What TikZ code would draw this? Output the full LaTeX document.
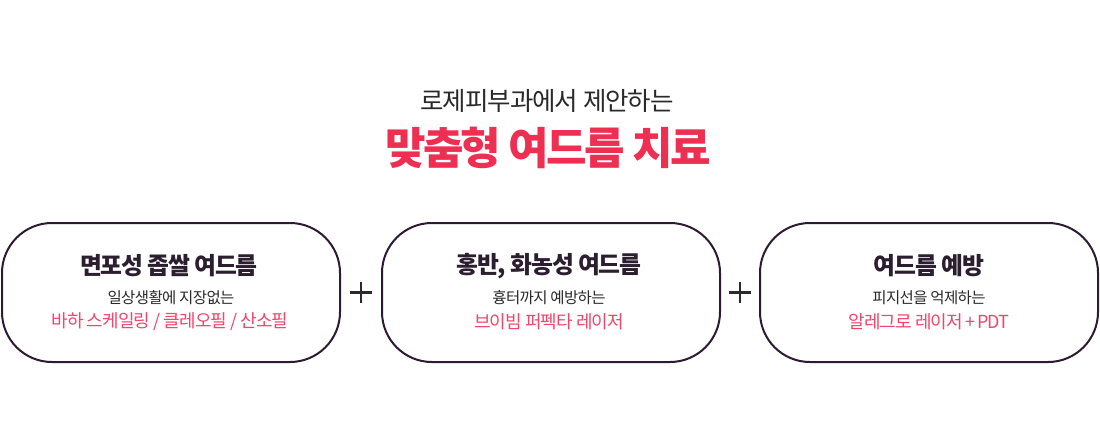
\documentclass[tikz,border=0pt]{standalone}
\usepackage{fontspec}
\usetikzlibrary{calc}
\setmainfont{Noto Sans CJK KR}
\definecolor{boxc}{HTML}{2D1B33}
\definecolor{headpink}{HTML}{EE2F52}
\definecolor{subpink}{HTML}{F2456A}
\definecolor{darktxt}{HTML}{2A2A2A}
\definecolor{titletxt}{HTML}{2B1E2E}
\tikzset{
  pill/.style={draw=boxc, line width=2pt, rounded corners=50pt, minimum width=338pt, minimum height=139pt, inner sep=0pt},
  boxtitle/.style={text=titletxt, font=\fontsize{23.8}{27}\selectfont\bfseries\addfontfeature{LetterSpace=-5}, inner sep=0pt},
  boxsub/.style={text=darktxt, font=\fontsize{15.5}{18}\selectfont\addfontfeature{LetterSpace=-4}, inner sep=0pt},
  boxpink/.style={text=subpink, font=\fontsize{18}{21}\selectfont\addfontfeature{LetterSpace=-5}, inner sep=0pt},
  plussign/.style={draw=darktxt, line width=2.4pt}
}
\begin{document}
\begin{tikzpicture}[x=1pt,y=-1pt]
\useasboundingbox (0,0) rectangle (1100,433);
\fill[white] (0,0) rectangle (1100,433);

\node[text=darktxt, font=\fontsize{25.5}{30}\selectfont\addfontfeature{LetterSpace=-4}, inner sep=0pt] (intro) at (547,101) {로제피부과에서 제안하는};
\node[text=headpink, font=\fontsize{44}{50}\selectfont\bfseries\addfontfeature{LetterSpace=-6}, inner sep=0pt] (head) at (548,148) {맞춤형 여드름 치료};

\node[pill] (b1) at (171,292.5) {};
\node[pill] (b2) at (551,292.5) {};
\node[pill] (b3) at (929,292.5) {};

\node[boxtitle] (t1) at (169,266) {면포성 좁쌀 여드름};
\node[boxsub] (s1) at (171,298) {일상생활에 지장없는};
\node[boxpink] (p1) at (170,322) {바하 스케일링 / 클레오필 / 산소필};

\node[boxtitle] (t2) at (549,266) {홍반, 화농성 여드름};
\node[boxsub] (s2) at (549,298) {흉터까지 예방하는};
\node[boxpink] (p2) at (549,322) {브이빔 퍼펙타 레이저};

\node[boxtitle] (t3) at (929,266) {여드름 예방};
\node[boxsub] (s3) at (929,298) {피지선을 억제하는};
\node[boxpink] (p3) at (929,322) {알레그로 레이저\kern2pt+\kern2pt PDT};

\coordinate (pl1) at ($(b1.east)!0.5!(b2.west)$);
\coordinate (pl2) at ($(b2.east)!0.5!(b3.west)$);
\draw[plussign] ([xshift=-11pt]pl1) -- ([xshift=11pt]pl1) ([yshift=-10.5pt]pl1) -- ([yshift=10.5pt]pl1);
\draw[plussign] ([xshift=-11pt]pl2) -- ([xshift=11pt]pl2) ([yshift=-10.5pt]pl2) -- ([yshift=10.5pt]pl2);
\end{tikzpicture}
\end{document}
